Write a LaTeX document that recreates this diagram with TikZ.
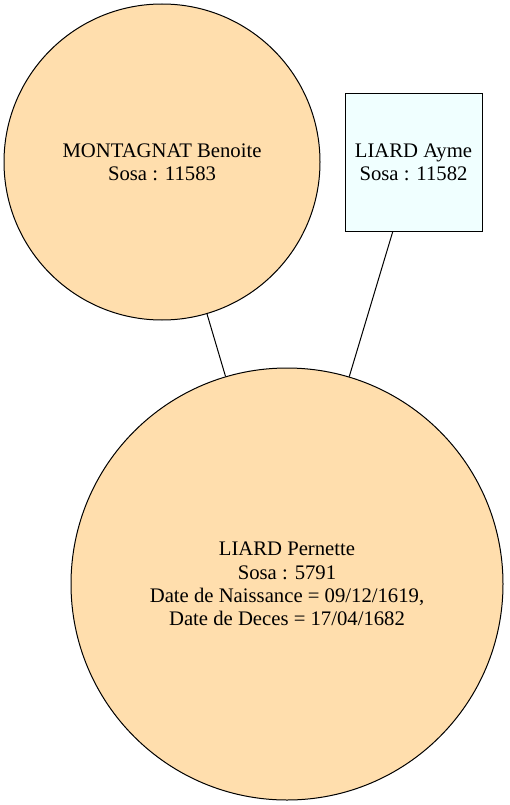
\documentclass[tikz,border=0pt]{standalone}
\usepackage{fontspec}
\setmainfont{Liberation Serif}
\newfontfamily\timesfont{Liberation Serif}
\definecolor{wheat}{HTML}{FFDEAD}
\definecolor{azurefill}{HTML}{F0FFFF}
\begin{document}
\begin{tikzpicture}[x=1pt,y=1pt,
  person/.style={circle,draw=black,line width=1pt,fill=wheat,inner sep=0pt,align=center,
    font=\timesfont\fontsize{20.7}{23.3}\selectfont},
  pbox/.style={rectangle,draw=black,line width=1pt,fill=azurefill,inner sep=0pt,align=center,
    font=\timesfont\fontsize{20.7}{23.3}\selectfont},
  link/.style={draw=black,line width=1pt}]
\useasboundingbox (0,0) rectangle (509,-805);
\node[person,minimum size=316pt] (benoite) at (162,-162) {MONTAGNAT Benoite\\Sosa : 11583};
\node[pbox,minimum width=137pt,minimum height=137pt] (ayme) at (413.5,-162.5) {LIARD Ayme\\Sosa : 11582};
\node[person,minimum size=432pt] (pernette) at (287,-584) {LIARD Pernette\\Sosa : 5791\\Date de Naissance = 09/12/1619,\\Date de Deces = 17/04/1682};
\draw[link] (benoite) -- (pernette);
\draw[link] (ayme) -- (pernette);
\end{tikzpicture}
\end{document}
